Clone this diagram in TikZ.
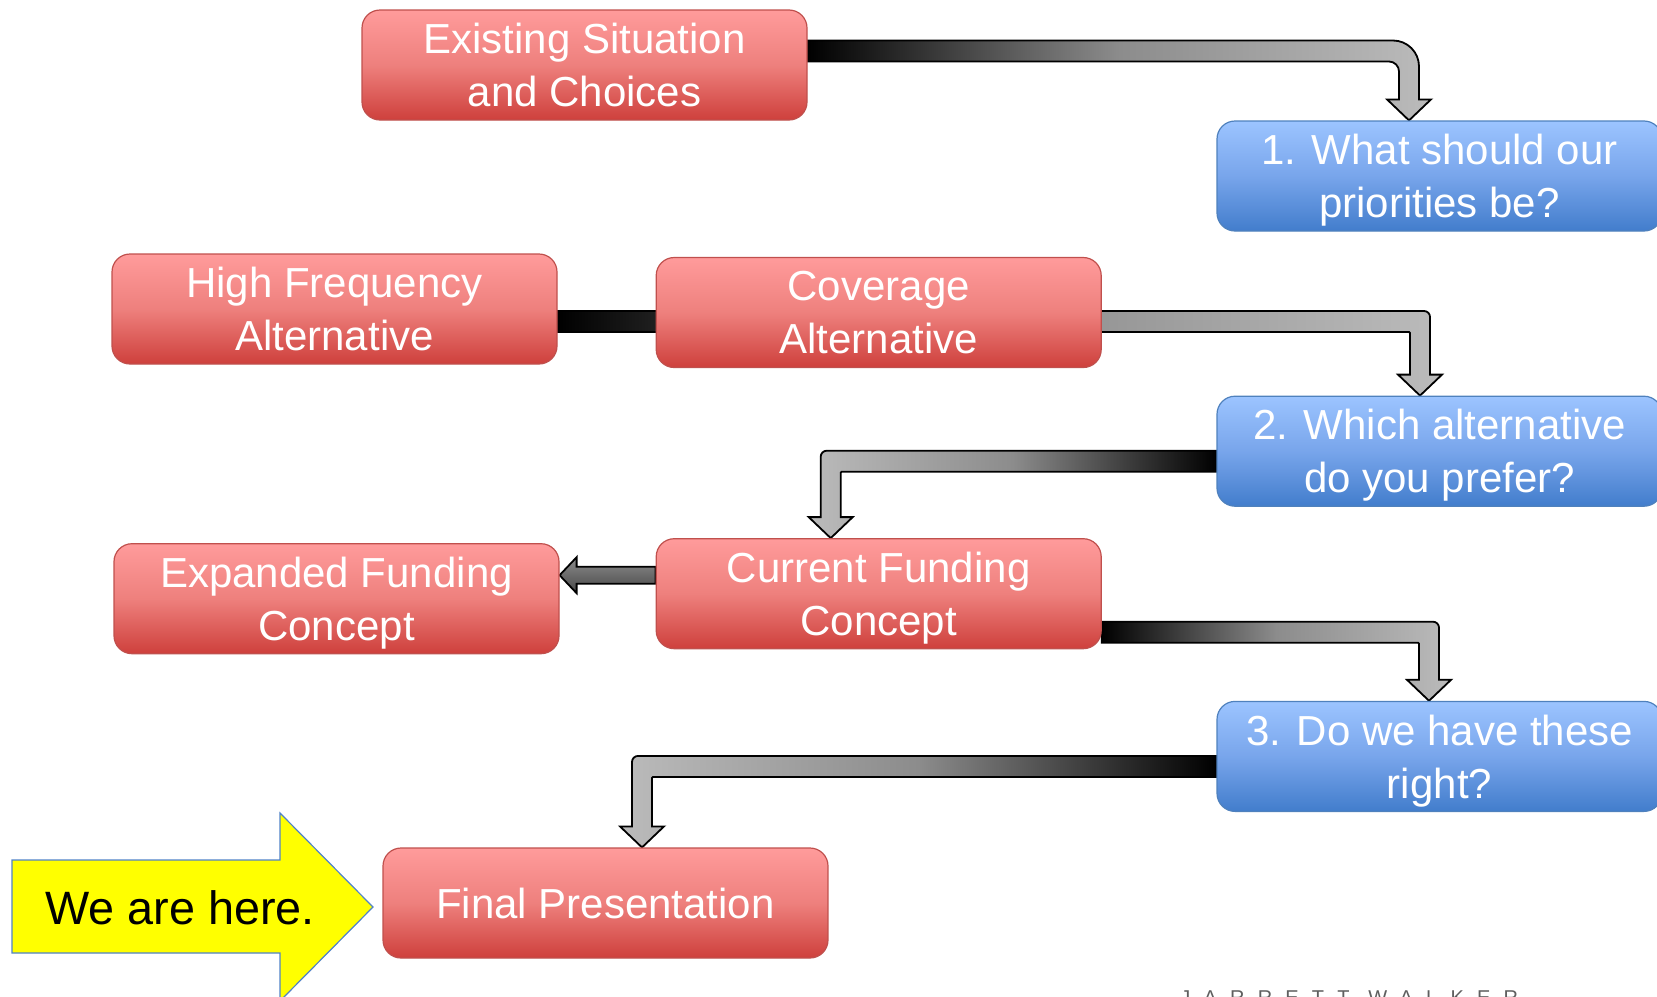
\documentclass[tikz,border=0pt]{standalone}
\usepackage{fontspec}
\setmainfont{Liberation Sans}
\newfontfamily\logofont[LetterSpace=66]{Liberation Sans}
\usetikzlibrary{positioning, backgrounds, calc}
\definecolor{boxred}{RGB}{192,80,77}
\definecolor{redtop}{RGB}{255,155,155}
\definecolor{redmid}{RGB}{238,128,125}
\definecolor{redbot}{RGB}{206,64,60}
\definecolor{boxblue}{RGB}{79,129,189}
\definecolor{bluetop}{RGB}{156,196,255}
\definecolor{bluemid}{RGB}{120,165,235}
\definecolor{bluebot}{RGB}{66,125,204}
\definecolor{barlight}{RGB}{187,187,187}
\definecolor{barmid}{RGB}{140,140,140}
\definecolor{hereyellow}{RGB}{255,255,0}
\definecolor{hereline}{RGB}{80,130,200}
\definecolor{logogray}{RGB}{95,95,95}

% half bar thickness, half shaft width, head length, head half width
\def\barh{5.25pt}
\def\barw{5pt}
\def\headl{10.5pt}
\def\headw{11pt}

% elbow block arrow: start, tip, direction (1 right / -1 left),
% outer radius, inner radius, shading
\newcommand{\elbow}[6]{%
  \path[barline,#6] let \p1=#1, \p2=#2 in
    (\x1,{\y1+\barh}) [rounded corners=#4]
    -- ({\x2+(#3)*\barw},{\y1+\barh}) [sharp corners]
    -- ({\x2+(#3)*\barw},{\y2+\headl})
    -- ({\x2+(#3)*\headw},{\y2+\headl})
    -- (\x2,\y2)
    -- ({\x2-(#3)*\headw},{\y2+\headl})
    -- ({\x2-(#3)*\barw},{\y2+\headl}) [rounded corners=#5]
    -- ({\x2-(#3)*\barw},{\y1-\barh}) [sharp corners]
    -- (\x1,{\y1-\barh}) -- cycle;}

\begin{document}
\begin{tikzpicture}[x=0.5pt, y=-0.5pt,
  redbox/.style={
    draw=boxred, line width=0.6pt, rounded corners=9pt,
    top color=redtop, bottom color=redbot, middle color=redmid,
    minimum width=222.5pt, minimum height=55pt, inner sep=0pt,
    text=white, align=center, text depth=0pt,
    font=\fontsize{21}{26.5}\selectfont
  },
  bluebox/.style={
    redbox, draw=boxblue,
    top color=bluetop, bottom color=bluebot, middle color=bluemid
  },
  barline/.style={draw=black, line width=0.9pt},
  barright/.style={left color=black, right color=barlight, middle color=barmid},
  barleft/.style={left color=barlight, right color=black, middle color=barmid},
  hereflag/.style={draw=hereline, line width=0.6pt, fill=hereyellow},
]
\useasboundingbox (0,0) rectangle (1657,996);

\node[redbox] (exist) at (584.5,65) {Existing Situation\\and Choices};
\node[bluebox] (q1) at (1439.5,176) {1. What should our\\priorities be?};
\node[redbox] (hifreq) at (334.5,309) {High Frequency\\Alternative};
\node[redbox, right=49pt of hifreq, yshift=-1.75pt] (cover) {Coverage\\Alternative};
\node[bluebox, below=82pt of q1] (q2) {2. Which alternative\\do you prefer?};
\node[redbox, below=85pt of cover] (current) {Current Funding\\Concept};
\node[redbox, left=48pt of current, yshift=-2.5pt] (expand) {Expanded Funding\\Concept};
\node[bluebox, below=97pt of q2] (q3) {3. Do we have these\\right?};
\node[redbox] (final) at (605.5,903) {Final Presentation};

% you-are-here marker
\draw[hereflag] (12,860) -- (280,860) -- (280,813) -- (373,907)
  -- (280,1001) -- (280,953) -- (12,953) -- cycle;
\node[anchor=base, font=\fontsize{23.4}{28}\selectfont] (here) at (180,924) {We are here.};

\node[anchor=base west, inner sep=0pt, text=logogray,
  font=\logofont\fontsize{10}{12}\selectfont] (logo) at (1180,1004) {JARRETT WALKER};

\begin{scope}[on background layer]
\elbow{([yshift=7pt]exist.east)}{([xshift=-15.25pt]q1.north)}{1}{13pt}{5pt}{barright}
\elbow{([yshift=-6.25pt]hifreq.east)}{([xshift=-9.75pt]q2.north)}{1}{3pt}{0.5pt}{barright}
\elbow{([yshift=-5pt]q2.west)}{([xshift=-24pt]current.north)}{-1}{3pt}{0.5pt}{barleft}
\elbow{([yshift=-19.25pt]current.east)}{([xshift=-5.25pt]q3.north)}{1}{3pt}{0.5pt}{barright}
\elbow{([yshift=-5pt]q3.west)}{([xshift=18.25pt]final.north)}{-1}{3pt}{0.5pt}{barleft}
\path[barline, top color=black!45, bottom color=black!72]
  let \p1=([yshift=9.25pt]current.west), \p2=(expand.east) in
  (\x1,{\y1+4.25pt}) -- ({\x2+8.5pt},{\y1+4.25pt}) -- ({\x2+8.5pt},{\y1+9pt})
  -- (\x2,\y1) -- ({\x2+8.5pt},{\y1-9pt}) -- ({\x2+8.5pt},{\y1-4.25pt})
  -- (\x1,{\y1-4.25pt}) -- cycle;
\end{scope}

\end{tikzpicture}
\end{document}
